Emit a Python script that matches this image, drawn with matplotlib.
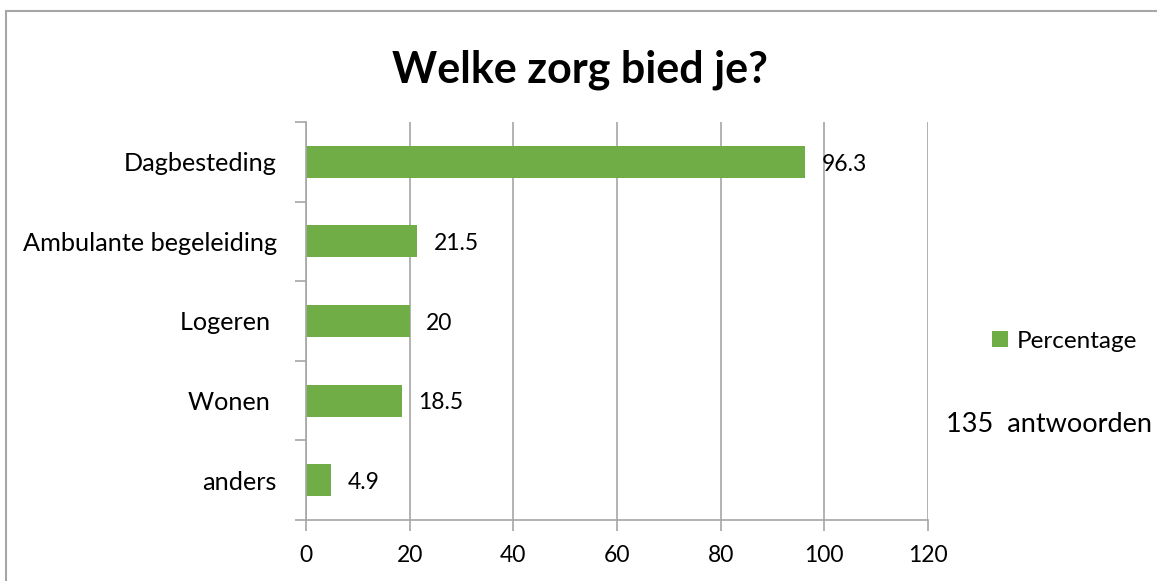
import matplotlib.pyplot as plt
from matplotlib.patches import Rectangle

# data
categories = ['Dagbesteding', 'Ambulante begeleiding', 'Logeren ', 'Wonen ', 'anders']
percentages = [96.3, 21.5, 20, 18.5, 4.9]
value_labels = ['96.3', '21.5', '20', '18.5', '4.9']
x_ticks = [0, 20, 40, 60, 80, 100, 120]

plt.rcParams['font.family'] = ['Lato', 'DejaVu Sans']

W, H = 1157, 581
fig = plt.figure(figsize=(W / 100, H / 100), dpi=100)
ax = fig.add_axes([306 / W, 1 - 520 / H, (928 - 306) / W, (520 - 122) / H])

green = '#70AD47'
grey = '#A6A6A6'

pos = list(range(len(categories)))[::-1]
ax.barh(pos, percentages, height=0.4, color=green, label='Percentage')
for p, v, t in zip(pos, percentages, value_labels):
    ax.text(v + 3.2, p - 0.03, t, va='center', ha='left', fontsize=16.5)

ax.set_xlim(0, 120)
ax.set_ylim(-0.5, len(categories) - 0.5)
ax.set_xticks(x_ticks)
ax.set_xticklabels([str(t) for t in x_ticks], fontsize=16.5)
ax.set_yticks([p + 0.5 for p in pos] + [-0.5], minor=False)
ax.set_yticklabels([''] * (len(pos) + 1))
ax.set_yticks(pos, minor=True)
ax.set_yticklabels(categories, minor=True, fontsize=18.2)
ax.tick_params(axis='y', which='minor', length=0, pad=21)
ax.tick_params(axis='y', which='major', length=8, color=grey, width=1.2)
ax.tick_params(axis='x', length=8, color=grey, width=1.2, pad=10)

ax.grid(axis='x', color=grey, linewidth=1.2)
ax.set_axisbelow(True)
for s in ['top', 'right']:
    ax.spines[s].set_visible(False)
for s in ['left', 'bottom']:
    ax.spines[s].set_color(grey)
    ax.spines[s].set_linewidth(1.2)

fig.text(580 / W, 1 - 70 / H, 'Welke zorg bied je?', ha='center', va='center',
         fontsize=31, fontweight='bold')

fig.legend(loc='center left', bbox_to_anchor=(992 / W, 1 - 341 / H), frameon=False,
           fontsize=17.5, handlelength=0.65, handleheight=0.65, handletextpad=0.35,
           borderpad=0, borderaxespad=0)
fig.text(946 / W, 1 - 425 / H, '135  antwoorden', ha='left', va='center', fontsize=19.5)

fig.patches.append(Rectangle((6 / W, -0.1), 1.2, 1.1 - 11 / H, transform=fig.transFigure,
                             fill=False, edgecolor=grey, linewidth=1.5))

fig.savefig('out.png', dpi=100)
